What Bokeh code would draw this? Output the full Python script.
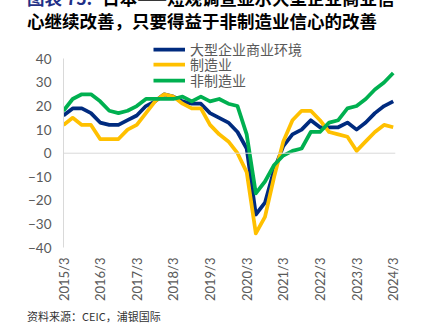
import math
from bokeh.plotting import figure
from bokeh.layouts import column
from bokeh.models import (Span, Legend, LegendItem, FixedTicker, ColumnDataSource, Div)
from bokeh.embed import file_html
from bokeh.resources import INLINE

# ---------------- data ----------------
quarters = [f"{y}/{m}" for y in range(2015, 2025) for m in (3, 6, 9, 12)][:37]
all_industries = [16, 19, 19, 17, 13, 12, 12, 14, 16, 20, 22, 25, 24, 22, 21, 21,
                  17, 15, 13, 9, 2, -26, -21, -7, 3, 8, 10, 14, 11, 11, 11, 13,
                  10, 13, 17, 20, 22]
manufacturing = [12, 15, 12, 12, 6, 6, 6, 10, 12, 17, 22, 25, 24, 21, 19, 19,
                 12, 8, 5, 0, -8, -34, -27, -10, 5, 14, 18, 18, 14, 9, 8, 7,
                 1, 5, 9, 12, 11]
non_manufacturing = [18, 23, 25, 25, 22, 18, 17, 18, 20, 23, 23, 23, 23, 24, 22, 24,
                     22, 23, 21, 20, 8, -17, -12, -5, -1, 1, 2, 9, 9, 13, 14, 19,
                     20, 23, 27, 30, 34]
series_names = ["大型企业商业环境", "制造业", "非制造业"]
series_colors = ["#002B7F", "#FFC000", "#00B050"]
y_ticks = [-40, -30, -20, -10, 0, 10, 20, 30, 40]
x_tick_idx = list(range(0, len(quarters), 4))

title_prefix = "图表 75:"
title_line1 = "日本——短观调查显示大型企业商业信"
title_line2 = "心继续改善，只要得益于非制造业信心的改善"
source_text = "资料来源：CEIC，浦银国际"

source = ColumnDataSource(dict(
    x=list(range(len(quarters))),
    q=quarters,
    allind=all_industries,
    mfg=manufacturing,
    nonmfg=non_manufacturing,
))

W = 424
HEAD_H, RULE_H, MAIN_H, FOOT_H = 31, 2, 271, 23     # 31+2+271+2+23 = 329
MAIN_TOP = HEAD_H + RULE_H                          # picture y where the chart starts
RULE_COLOR = "#5B509A"
CJK = "'Noto Sans CJK SC'"
FL, FR = 63, 395

def rule_fig():
    f = figure(width=W, height=RULE_H, x_range=(0, 1), y_range=(0, 1),
               title=None, output_backend="svg", toolbar_location=None,
               x_axis_type=None, y_axis_type=None,
               min_border_left=FL, min_border_right=W - FR,
               min_border_top=0, min_border_bottom=0, margin=(0, 0, 0, 0))
    f.outline_line_color = None
    f.xgrid.visible = False
    f.ygrid.visible = False
    f.background_fill_color = "white"
    f.border_fill_color = "white"
    f.add_layout(Span(location=0.5, dimension="width", line_color=RULE_COLOR,
                      line_width=1.2))
    return f

# ---------------- header ----------------
header_html = (
    f'<div style="position:relative;width:{W}px;height:{HEAD_H}px;overflow:hidden;'
    f'font-family:{CJK};font-weight:bold;font-size:17.5px;line-height:19.5px;color:#000;">'
    f'<div style="position:absolute;left:27px;top:-12.5px;white-space:nowrap;">'
    f'<span style="color:#1F2F86;">{title_prefix}</span>'
    f'<span style="margin-left:10px;">{title_line1}</span></div>'
    f'<div style="position:absolute;left:27px;top:10.5px;white-space:nowrap;">{title_line2}</div>'
    f'</div>'
)
top = Div(text=header_html, width=W, height=HEAD_H, margin=(0, 0, 0, 0),
          styles={"overflow": "hidden"})

# ---------------- main chart ----------------
FRAME_TOP, FRAME_BOTTOM = 40, 248        # picture px
PX_PER_UNIT = (FRAME_BOTTOM - 58.5) / 80
y_top = 40 + (58.5 - FRAME_TOP) / PX_PER_UNIT

p = figure(width=W, height=MAIN_H, x_range=(0, 36.25), y_range=(-40, y_top),
           title=None, output_backend="svg", toolbar_location=None,
           min_border_left=FL, min_border_right=W - FR,
           min_border_top=FRAME_TOP - MAIN_TOP,
           min_border_bottom=MAIN_TOP + MAIN_H - FRAME_BOTTOM,
           margin=(0, 0, 0, 0))
p.outline_line_color = None
p.background_fill_color = "white"
p.border_fill_color = "white"
p.xgrid.visible = False
p.ygrid.visible = False

p.yaxis.ticker = FixedTicker(ticks=y_ticks)
p.yaxis.bounds = (-40, 40)
p.yaxis.axis_line_color = "#D9D9D9"
p.yaxis.major_tick_line_color = None
p.yaxis.minor_tick_line_color = None
p.yaxis.major_tick_out = 0
p.yaxis.major_tick_in = 0
p.yaxis.major_label_standoff = 12
p.yaxis.major_label_text_font = "Lato"
p.yaxis.major_label_text_font_size = "13.5px"
p.yaxis.major_label_text_color = "#595959"

p.xaxis.ticker = FixedTicker(ticks=x_tick_idx)
p.xaxis.major_label_overrides = {i: quarters[i] for i in x_tick_idx}
p.xaxis.major_label_orientation = math.pi / 2
p.xaxis.axis_line_color = None
p.xaxis.major_tick_line_color = None
p.xaxis.minor_tick_line_color = None
p.xaxis.major_tick_out = 0
p.xaxis.major_tick_in = 0
p.xaxis.major_label_standoff = 10
p.xaxis.major_label_text_font = "Lato"
p.xaxis.major_label_text_font_size = "13px"
p.xaxis.major_label_text_color = "#595959"

p.add_layout(Span(location=0, dimension="width", line_color="#D9D9D9", line_width=1))

lw = 3.75
renderers = []
for col, colr in zip(["allind", "mfg", "nonmfg"], series_colors):
    renderers.append(p.line("x", col, source=source, line_color=colr,
                            line_width=lw, line_join="round"))

# one single-row legend per series, rows 16 px apart
row_centers = [51.7, 67.3, 83.3]    # picture px
LH = 0.8
ROW_H = max(16, 14 * 1.448 * LH)
for name, r, cy in zip(series_names, renderers, row_centers):
    lg = Legend(items=[LegendItem(label=name, renderers=[r])],
                location=(153 - FL, FRAME_BOTTOM - (cy + ROW_H / 2)),
                orientation="vertical",
                padding=0, margin=0, spacing=0, label_height=16, glyph_height=16,
                glyph_width=32, label_standoff=5,
                border_line_color=None, background_fill_alpha=0,
                label_text_font="Noto Sans CJK SC", label_text_font_size="14px",
                label_text_line_height=LH, label_text_color="#595959")
    p.add_layout(lg)

# ---------------- footer ----------------
footer_html = (
    f'<div style="position:relative;width:{W}px;height:{FOOT_H}px;overflow:hidden;'
    f'font-family:{CJK};font-size:11px;line-height:14px;color:#333;">'
    f'<div style="position:absolute;left:27px;top:3px;white-space:nowrap;">{source_text}</div>'
    f'</div>'
)
bot = Div(text=footer_html, width=W, height=FOOT_H, margin=(0, 0, 0, 0),
          styles={"overflow": "hidden"})

layout = column(top, rule_fig(), p, rule_fig(), bot, spacing=0, margin=(0, 0, 0, 0))
open("out.html", "w").write(file_html(layout, INLINE))
